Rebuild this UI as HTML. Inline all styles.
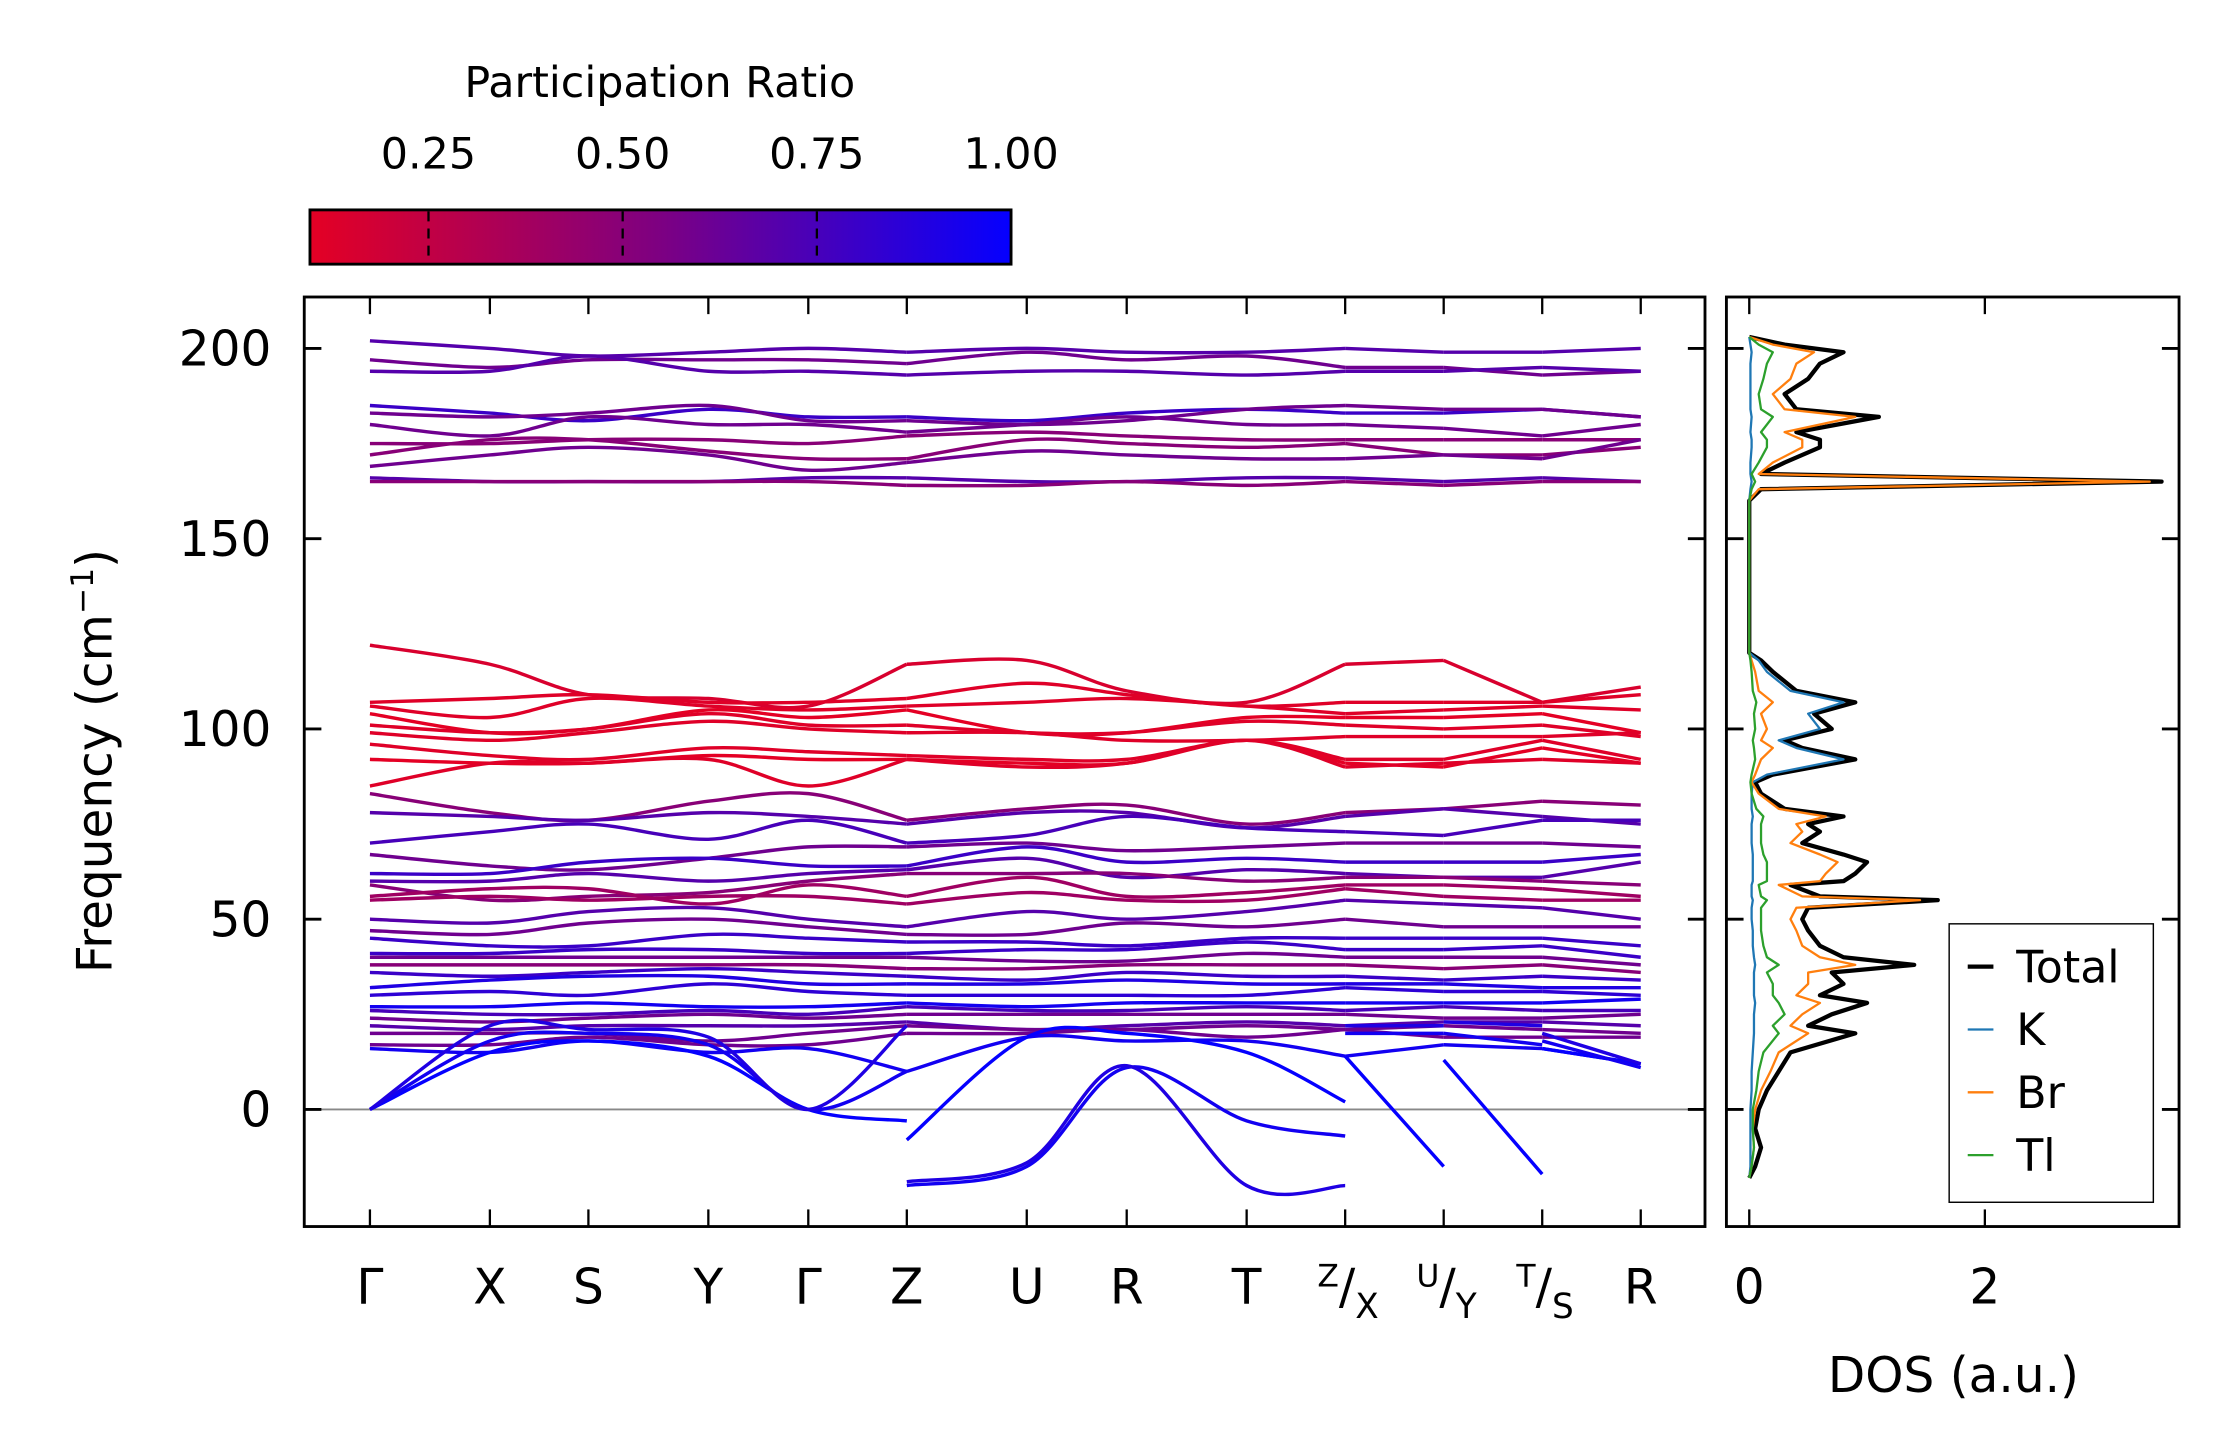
<!DOCTYPE html>
<html><head><meta charset="utf-8">
<style>
html,body{margin:0;padding:0;background:#fff;}
svg{display:block;font-family:"DejaVu Sans","Liberation Sans",sans-serif;}
</style></head>
<body>
<svg id="fig" width="2222" height="1455" viewBox="0 0 1556 1019" xmlns="http://www.w3.org/2000/svg">
<defs>
<linearGradient id="cbgrad" x1="0" x2="1" y1="0" y2="0">
<stop offset="0" stop-color="rgb(228,0,36)"/>
<stop offset="0.5" stop-color="rgb(125,0,130)"/>
<stop offset="1" stop-color="rgb(5,0,255)"/>
</linearGradient>
<clipPath id="mainclip"><rect x="214" y="209" width="979" height="649"/></clipPath>
<clipPath id="dosclip"><rect x="1210" y="209" width="315" height="649"/></clipPath>
</defs>
<g id="colorbar">
<text x="462" y="68" font-size="30" text-anchor="middle">Participation Ratio</text>
<rect x="217" y="147" width="491" height="38" fill="url(#cbgrad)" stroke="#000" stroke-width="2"/>
</g>
<g id="bands" clip-path="url(#mainclip)"></g>
<g id="dos" clip-path="url(#dosclip)"></g>
<g id="axes"></g>
</svg>
<script>
// ---- data ----
const kLabels = ["Γ","X","S","Y","Γ","Z","U","R","T","Z/X","U/Y","T/S","R"];
const kPos = [259,343,412,496,566,635,719,789,873,942,1011,1080,1149];
// path nodes (k-point index) with breaks duplicated: Γ X S Y Γ Z|Z U R T Z|X U|Y T|S R
const pathNode = [0,1,2,3,4,5,5,6,7,8,9,9,10,10,11,11,12];
const yTicks = [0,50,100,150,200];
const cbTicks = [0.25,0.5,0.75,1.0];
const cbTickLabels = ["0.25","0.50","0.75","1.00"];
const bandRatio = [0.7,0.6,0.7,0.8,0.6,0.6,0.5,0.5,0.6,0.7,0.5,
 0.15,0.12,0.12,0.1,0.12,0.12,0.12,0.1,0.12,
 0.5,0.7,0.75,0.6,0.8,0.7,0.5,0.4,0.4,0.7,0.6,0.8,0.8,0.6,0.5,0.8,0.9,0.85,0.95,0.75,0.6,0.7,0.6,0.6,0.95];
const bands = [
[202,200,198,199,200,199,200,199,199,200,199,199,200],
[197,195,197,197,197,196,199,197,198,195,195,193,194],
[194,194,198,194,194,193,194,194,193,194,194,195,194],
[185,183,181,184,182,182,181,183,184,183,183,184,182],
[183,182,183,185,181,181,180,181,184,185,184,184,182],
[180,177,182,180,180,178,180,182,180,180,179,177,180],
[175,175,176,176,175,177,178,177,176,176,176,176,176],
[172,176,176,173,171,171,176,175,174,175,172,172,174],
[169,172,174,172,168,170,173,172,171,171,172,171,176],
[166,165,165,165,166,166,165,165,166,166,165,166,165],
[165,165,165,165,165,164,164,165,164,165,164,165,165],
[122,117,109,108,106,117,118,110,107,117,118,107,111],
[107,108,109,107,107,108,112,109,106,107,107,107,109],
[106,103,108,106,105,106,107,108,106,104,105,106,105],
[104,99,100,105,103,105,99,99,103,103,103,104,99],
[101,99,100,104,101,101,99,99,102,101,100,101,98],
[99,97,99,102,100,99,99,97,97,98,98,98,99],
[96,93,92,95,94,93,92,92,97,92,92,97,92],
[92,91,91,93,92,92,91,91,97,91,90,95,91],
[85,91,91,92,85,92,90,91,97,90,91,92,91],
[83,78,76,81,83,76,79,80,75,78,79,81,80],
[78,77,76,78,77,75,78,78,74,77,79,77,75],
[70,73,75,71,76,70,72,77,74,73,72,76,76],
[67,64,63,66,69,69,70,68,69,70,70,70,69],
[62,62,65,66,64,64,69,65,66,65,65,65,67],
[60,60,62,60,62,63,66,61,63,62,61,61,65],
[59,55,56,57,60,62,62,62,60,61,61,60,59],
[56,58,58,54,59,56,61,56,57,59,59,58,56],
[55,56,55,56,56,54,57,55,55,58,56,55,55],
[50,49,52,53,50,48,52,50,52,55,54,53,50],
[47,46,49,50,48,46,46,49,48,50,48,48,48],
[45,43,43,46,45,44,44,43,45,45,45,45,43],
[41,41,42,42,41,41,42,42,44,42,42,43,40],
[40,40,40,40,40,40,39,39,41,40,40,40,38],
[38,38,38,38,38,37,37,38,38,38,37,38,36],
[36,35,36,37,36,35,34,36,35,35,34,35,34],
[32,34,35,35,33,33,33,34,33,33,33,32,32],
[30,31,30,33,31,30,30,30,30,32,31,31,30],
[27,27,28,27,27,28,27,28,28,28,28,28,29],
[26,25,25,26,25,27,26,26,27,26,27,26,26],
[24,23,24,25,24,25,25,25,25,25,24,24,25],
[22,21,22,22,22,23,21,22,23,22,23,23,22],
[20,20,20,18,20,22,21,21,22,21,22,21,20],
[17,17,19,17,17,20,20,21,19,21,19,19,19],
[16,15,18,15,16,10,19,18,18,14,17,16,12]
];
// acoustic / soft branches given on the 17 path nodes (breaks duplicated)
const acousticRatio = [1.0,0.95,0.9];
const acoustic = [
[0,15,18,14,0,-3, -8,19,20,15,2, 14,-15, 13,-17, 16,12],
[0,18,20,17,0,10, -20,-15,11,-3,-7, 20,20, 20,17, 18,11],
[0,22,21,19,0,22, -19,-14,11.5,-20,-20, 22,22, 23,22, 20,12]
];
const dosFreq = [-18,-15,-10,-5,0,5,10,15,20,22,25,28,30,33,36,38,40,43,47,50,53,55,56,59,60,62,65,67,70,73,75,77,79,83,86,88,92,95,97,100,104,107,110,115,118,120,160,163,165,167,170,174,176,178,182,184,188,192,196,199,201,203];
const dosTotal = [0,0.05,0.1,0.05,0.08,0.15,0.25,0.35,0.9,0.5,0.7,1.0,0.6,0.8,0.7,1.4,0.8,0.6,0.5,0.45,0.5,1.6,0.6,0.35,0.8,0.9,1.0,0.8,0.45,0.6,0.5,0.8,0.3,0.1,0.05,0.2,0.9,0.45,0.3,0.7,0.55,0.9,0.4,0.2,0.1,0,0,0.1,3.5,0.1,0.3,0.6,0.6,0.4,1.1,0.4,0.3,0.5,0.6,0.8,0.3,0];
const dosK = [0,0.01,0.01,0.01,0.01,0.02,0.02,0.03,0.04,0.04,0.04,0.05,0.04,0.04,0.04,0.05,0.04,0.03,0.03,0.02,0.02,0.03,0.02,0.02,0.03,0.03,0.03,0.03,0.02,0.02,0.02,0.03,0.02,0.02,0.03,0.15,0.8,0.4,0.25,0.6,0.5,0.8,0.35,0.15,0.08,0,0,0.01,0.02,0.01,0.01,0.02,0.02,0.01,0.02,0.01,0.01,0.01,0.01,0.02,0.01,0];
const dosBr = [0,0.02,0.04,0.03,0.05,0.1,0.18,0.25,0.5,0.35,0.45,0.6,0.4,0.5,0.5,0.9,0.6,0.45,0.4,0.35,0.4,1.45,0.45,0.25,0.6,0.65,0.75,0.6,0.35,0.45,0.4,0.65,0.25,0.08,0.02,0.05,0.1,0.2,0.1,0.15,0.1,0.2,0.08,0.05,0.02,0,0,0.08,3.4,0.08,0.2,0.45,0.45,0.3,0.9,0.3,0.2,0.35,0.4,0.55,0.2,0];
const dosTl = [0,0.02,0.04,0.03,0.03,0.06,0.08,0.12,0.25,0.2,0.3,0.25,0.2,0.2,0.15,0.25,0.15,0.12,0.1,0.1,0.1,0.15,0.1,0.08,0.15,0.15,0.15,0.12,0.1,0.1,0.1,0.12,0.06,0.02,0.01,0.02,0.05,0.04,0.03,0.05,0.04,0.06,0.03,0.02,0.01,0,0,0.02,0.05,0.02,0.08,0.15,0.15,0.1,0.2,0.1,0.08,0.12,0.15,0.2,0.08,0];
const legendNames = ["Total","K","Br","Tl"];
const legendColors = ["#000000","#1f77b4","#ff7f0e","#2ca02c"];

// ---- scales ----
const NS="http://www.w3.org/2000/svg";
function yS(f){return 777-f*2.665;}
function cbX(v){return 217+(v-0.0974)/(1-0.0974)*491;}
function dX(v){return 1225+v*82.5;}
function colorOf(r){const t=Math.max(0,Math.min(1,(r-0.1)/0.9));
 let R,B; if(t<0.5){const u=t/0.5;R=228+(125-228)*u;B=36+(130-36)*u;}else{const u=(t-0.5)/0.5;R=125+(5-125)*u;B=130+(255-130)*u;}
 return `rgb(${R|0},0,${B|0})`;}
function mk(tag,attrs,parent){const e=document.createElementNS(NS,tag);for(const k in attrs)e.setAttribute(k,attrs[k]);parent.appendChild(e);return e;}

const gB=document.getElementById('bands');
const gD=document.getElementById('dos');
const gA=document.getElementById('axes');
const gC=document.getElementById('colorbar');

const zl=mk('line',{x1:214,x2:1193,y1:yS(0),y2:yS(0),stroke:'#888',"stroke-width":1.3},gB);



function expand(b){return pathNode.map(n=>b[n]);}
function drawBand(vals,color,name){
 const pts=vals.map((f,i)=>[kPos[pathNode[i]],yS(f)]);
 // split into runs at breaks (equal x)
 const runs=[];let cur=[pts[0]];
 for(let i=1;i<pts.length;i++){ if(pts[i][0]===pts[i-1][0]){runs.push(cur);cur=[pts[i]];} else cur.push(pts[i]); }
 runs.push(cur);
 runs.forEach(run=>{
  if(run.length<2)return;
  let d=`M${run[0][0]},${run[0][1]}`;
  for(let i=0;i<run.length-1;i++){
   const p0=run[Math.max(0,i-1)],p1=run[i],p2=run[i+1],p3=run[Math.min(run.length-1,i+2)];
   const c1=[p1[0]+(p2[0]-p0[0])/6,p1[1]+(p2[1]-p0[1])/6];
   const c2=[p2[0]-(p3[0]-p1[0])/6,p2[1]-(p3[1]-p1[1])/6];
   d+=`C${c1[0]},${c1[1]} ${c2[0]},${c2[1]} ${p2[0]},${p2[1]}`;
  }
  const path=mk('path',{d:d,fill:'none',stroke:color,"stroke-width":2.4},gB);
  
  
 });
}
bands.forEach((b,bi)=>drawBand(expand(b),colorOf(bandRatio[bi]),'phonon-band-'+(bi+1)));
acoustic.forEach((b,bi)=>drawBand(b,colorOf(acousticRatio[bi]),'acoustic-band-'+(bi+1)));

function dosLine(arr,color,w,name){
 const d=arr.map((v,i)=>(i?'L':'M')+dX(v)+','+yS(dosFreq[i])).join('');
 const p=mk('path',{d:d,fill:'none',stroke:color,"stroke-width":w,"stroke-linejoin":"round"},gD);
 
 
}
dosLine(dosTotal,'#000',3,'dos-total-line');
dosLine(dosK,'#1f77b4',1.6,'dos-k-line');
dosLine(dosBr,'#ff7f0e',1.6,'dos-br-line');
dosLine(dosTl,'#2ca02c',1.6,'dos-tl-line');

const f1=mk('rect',{x:213,y:208,width:981,height:651,fill:'none',stroke:'#000',"stroke-width":2},gA);


const f2=mk('rect',{x:1209,y:208,width:317,height:651,fill:'none',stroke:'#000',"stroke-width":2},gA);



yTicks.forEach(t=>{
 const y=yS(t);
 [[213,225],[1182,1194],[1209,1221],[1514,1526]].forEach(([a,b])=>{
  const l=mk('line',{x1:a,x2:b,y1:y,y2:y,stroke:'#000',"stroke-width":2},gA);
  
  
 });
 const tx=mk('text',{x:190,y:y+12,"font-size":34,"text-anchor":"end"},gA);
 tx.textContent=t;
 
 
});
kLabels.forEach((lab,i)=>{
 const x=kPos[i];
 [[208,220],[847,859]].forEach(([a,b])=>{
  const l=mk('line',{x1:x,x2:x,y1:a,y2:b,stroke:'#000',"stroke-width":1.6},gA);
  
  
 });
 const tx=mk('text',{x:x,y:913,"font-size":34,"text-anchor":"middle"},gA);
 if(lab.includes('/')){
  const [a,b]=lab.split('/');
  tx.setAttribute('x',x+2);
  const s1=mk('tspan',{"font-size":22,dy:-12},tx);s1.textContent=a;
  const s2=mk('tspan',{dy:12},tx);s2.textContent='/';
  const s3=mk('tspan',{"font-size":24,dy:10},tx);s3.textContent=b;
 } else tx.textContent=lab;
 
 
});
[0,2].forEach(v=>{
 const x=dX(v);
 [[208,220],[847,859]].forEach(([a,b])=>{
  const l=mk('line',{x1:x,x2:x,y1:a,y2:b,stroke:'#000',"stroke-width":1.6},gA);
  
  
 });
 const tx=mk('text',{x:x,y:913,"font-size":34,"text-anchor":"middle"},gA);
 tx.textContent=v;
 
 
});
const yt=mk('text',{x:0,y:0,"font-size":34,"text-anchor":"middle",transform:"translate(78,533) rotate(-90)"},gA);
yt.innerHTML='Frequency (cm<tspan font-size="22" dy="-13">−1</tspan><tspan dy="13">)</tspan>';


const xt=mk('text',{x:1368,y:975,"font-size":34,"text-anchor":"middle"},gA);
xt.textContent='DOS (a.u.)';



const lb=mk('rect',{x:1365,y:647,width:143,height:195,fill:'#fff',stroke:'#000',"stroke-width":1},gA);


legendNames.forEach((n,i)=>{
 const y=677+i*44;
 const l=mk('line',{x1:1378,x2:1396,y1:y,y2:y,stroke:legendColors[i],"stroke-width":i?1.6:3},gA);
 
 
 const t=mk('text',{x:1412,y:y+11,"font-size":31},gA);
 t.textContent=n;
 
 
});

cbTicks.forEach((v,i)=>{
 const x=cbX(v);
 const l=mk('line',{x1:x,x2:x,y1:148,y2:184,stroke:'#000',"stroke-width":1.6,"stroke-dasharray":"7,5"},gC);
 
 
 const t=mk('text',{x:x,y:118,"font-size":30,"text-anchor":"middle"},gC);
 t.textContent=cbTickLabels[i];
 
 
});
</script>
</body></html>
